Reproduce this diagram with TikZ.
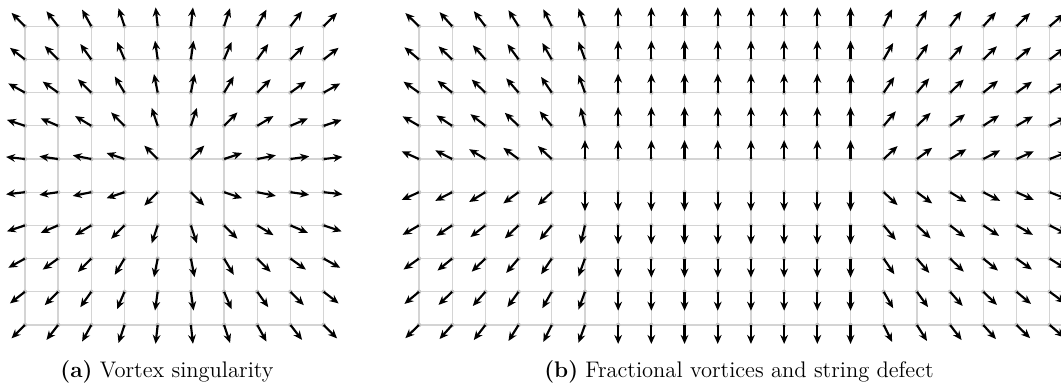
\documentclass[tikz,border=0pt]{standalone}
\usepackage{tikz}
\usetikzlibrary{arrows.meta}
\definecolor{GridGray}{gray}{0.83}
\definecolor{DotGray}{gray}{0.76}

\tikzset{
  gridline/.style={draw=GridGray, line width=0.6pt},
  fieldarrow/.style={line width=1.05pt, -{Stealth[length=4.4pt, width=3.8pt]}},
  caption/.style={anchor=base, font=\fontsize{11pt}{13pt}\selectfont},
}

\begin{document}
\begin{tikzpicture}[x=16.2pt, y=16.2pt]
\useasboundingbox (0,0) rectangle (31.96,11.63);

% (a) one vortex in the middle of the grid
\begin{scope}[shift={(0.75,1.84)}]
  \foreach \i in {0,...,9} {
    \draw[gridline] (\i,0) -- (\i,9);
    \draw[gridline] (0,\i) -- (9,\i);
  }
  \foreach \i in {0,...,9}
    \foreach \j in {0,...,9}
      \fill[DotGray] (\i,\j) circle (1.1pt);
  \foreach \i in {0,...,9}
    \foreach \j in {0,...,9} {
      \pgfmathsetmacro{\ang}{atan2(\j-4.5,\i-4.5)}
      \draw[fieldarrow] (\i,\j) -- ++(\ang:0.57);
    }
\end{scope}

% (b) two half vortices joined by a string
\begin{scope}[shift={(12.62,1.84)}]
  \foreach \i in {0,...,19}
    \draw[gridline] (\i,0) -- (\i,9);
  \foreach \j in {0,...,9}
    \draw[gridline] (0,\j) -- (19.6,\j);
  \foreach \i in {0,...,19}
    \foreach \j in {0,...,9}
      \fill[DotGray] (\i,\j) circle (1.1pt);
  \foreach \i in {0,...,19}
    \foreach \j in {0,...,9} {
      \pgfmathsetmacro{\ya}{abs(\j-4.5)}
      \pgfmathsetmacro{\sg}{\j>4 ? 1 : -1}
      \ifnum\i<5
        \pgfmathsetmacro{\up}{atan2(\ya+2.95,\i-7.7)}
      \else\ifnum\i=5
        \pgfmathsetmacro{\up}{90+20*min(1,(\ya-0.5)/1.5)}
      \else\ifnum\i<14
        \def\up{90}
      \else
        \pgfmathsetmacro{\up}{atan2(\ya+2.95,\i-10.3)}
      \fi\fi\fi
      \pgfmathsetmacro{\ang}{\sg*\up}
      \draw[fieldarrow] (\i,\j) -- ++(\ang:0.57);
    }
\end{scope}

% captions
\node[caption] (capA) at (5.03,0.26) {\textbf{(a)} Vortex singularity};
\node[caption] (capB) at (22.26,0.26) {\textbf{(b)} Fractional vortices and string defect};
\end{tikzpicture}
\end{document}
